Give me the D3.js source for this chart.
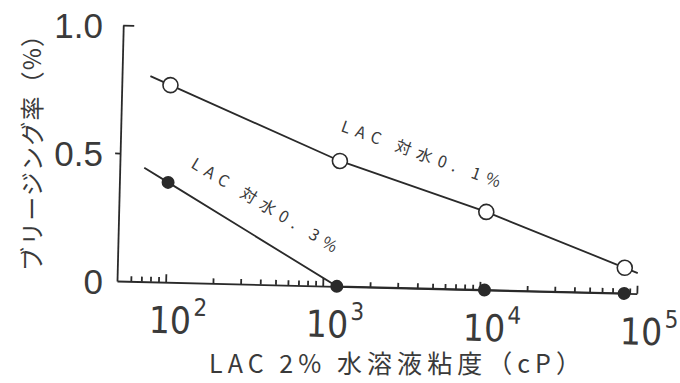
<!DOCTYPE html>
<html>
<head>
<meta charset="utf-8">
<script src="https://cdn.jsdelivr.net/npm/d3@7"></script>
<style>
  html, body { margin: 0; padding: 0; background: #fff; }
  svg { display: block; }
</style>
</head>
<body>
<svg id="chart" width="680" height="383"></svg>
<script>
// LAC 2% aqueous solution viscosity (cP) for each measured mix
const viscosity = [100, 1230, 10700, 83000];
// bleeding rate (%) — LAC dosed at 0.1% and 0.3% of mixing water
const bleedLac01 = [0.77, 0.49, 0.305, 0.10];
const bleedLac03 = [0.39, 0, 0, 0];

const xMajorTicks = [100, 1000, 10000, 100000];
const xTickExponents = ["2", "3", "4", "5"];
const yTickValues = [0, 0.5, 1.0];
const yTickLabels = ["0", "0.5", "1.0"];
const seriesLabels = ["LAC 対水0. 1%", "LAC 対水0. 3%"];
const xTitle = "LAC 2% 水溶液粘度（cP）";
const yTitle = "ブリージング率（%）";

const ink = "#2a2a2a";
const textInk = "#3a3a3a";
const svg = d3.select("#chart");

const x = d3.scaleLog().domain([49, 100000]).range([117, 637]);
const y = d3.scaleLinear().domain([0, 1]).range([281, 25]);

// the whole plot frame sits slightly tilted on the page
const plot = svg.append("g").attr("transform", "rotate(1.4, 117, 281)");

// x axis: baseline with inward minor ticks
const minorTicks = [];
for (let e = 1; e <= 4; e++) {
  for (let m = 2; m <= 9; m++) {
    const v = m * Math.pow(10, e);
    if (v > 55 && v < 100000) minorTicks.push(v);
  }
}
const xMinor = plot.append("g").attr("transform", `translate(0,${y(0)})`)
  .call(d3.axisBottom(x).tickValues(minorTicks).tickSizeInner(-5).tickSizeOuter(0).tickFormat(""));
const xMajor = plot.append("g").attr("transform", `translate(0,${y(0)})`)
  .call(d3.axisBottom(x).tickValues(xMajorTicks).tickSizeInner(-8).tickSizeOuter(0).tickFormat(""));
xMajor.select(".domain").remove();
[xMinor, xMajor].forEach(g => {
  g.selectAll("path, line").attr("stroke", ink).attr("stroke-width", 1.8);
});

// x tick labels as powers of ten
const xLab = plot.append("g")
  .attr("font-family", "'Liberation Sans Narrow', 'DejaVu Sans Condensed', 'Liberation Sans', sans-serif")
  .attr("fill", textInk);
xMajorTicks.forEach((v, i) => {
  const t = xLab.append("text")
    .attr("x", x(v) - 16).attr("y", y(0) + 51)
    .attr("font-size", 37);
  t.append("tspan").text("10");
  t.append("tspan").attr("dx", 2).attr("dy", -18).attr("font-size", 24).text(xTickExponents[i]);
});

// y axis: line, outward tick at 0.5, inward cap at 1.0
const yAxisL = plot.append("g").attr("transform", `translate(${x.range()[0]},0)`)
  .call(d3.axisLeft(y).tickValues([0.5]).tickSizeInner(5).tickSizeOuter(0).tickFormat(""));
const yAxisR = plot.append("g").attr("transform", `translate(${x.range()[0]},0)`)
  .call(d3.axisRight(y).tickValues([1.0]).tickSizeInner(11).tickSizeOuter(0).tickFormat(""));
yAxisR.select(".domain").remove();
[yAxisL, yAxisR].forEach(g => {
  g.selectAll("path, line").attr("stroke", ink).attr("stroke-width", 1.8);
});

// series lines with short lead-in / lead-out stubs
function withStubs(pts, lead, trail) {
  const out = pts.slice();
  if (lead > 0) {
    const [a, b] = [pts[0], pts[1]];
    const d = Math.hypot(b[0] - a[0], b[1] - a[1]);
    out.unshift([a[0] - (b[0] - a[0]) / d * lead, a[1] - (b[1] - a[1]) / d * lead]);
  }
  if (trail > 0) {
    const n = pts.length;
    const [a, b] = [pts[n - 2], pts[n - 1]];
    const d = Math.hypot(b[0] - a[0], b[1] - a[1]);
    out.push([b[0] + (b[0] - a[0]) / d * trail, b[1] + (b[1] - a[1]) / d * trail]);
  }
  return out;
}
const line = d3.line();

const pts01 = viscosity.map((v, i) => [x(v), y(bleedLac01[i])]);
const pts03 = viscosity.map((v, i) => [x(v), y(bleedLac03[i])]);

plot.append("path").attr("d", line(withStubs(pts01, 22, 14)))
  .attr("fill", "none").attr("stroke", ink).attr("stroke-width", 1.8);
plot.append("path").attr("d", line(withStubs(pts03, 28, 0)))
  .attr("fill", "none").attr("stroke", ink).attr("stroke-width", 1.8);

plot.append("g").selectAll("circle").data(pts03).join("circle")
  .attr("cx", d => d[0]).attr("cy", d => d[1]).attr("r", 6.5)
  .attr("fill", ink);
plot.append("g").selectAll("circle").data(pts01).join("circle")
  .attr("cx", d => d[0]).attr("cy", d => d[1]).attr("r", 7.5)
  .attr("fill", "#fff").attr("stroke", ink).attr("stroke-width", 1.6);

// y tick labels
svg.append("g")
  .attr("font-family", "'Liberation Sans', Arial, sans-serif")
  .attr("fill", textInk).attr("font-size", 35).attr("text-anchor", "end")
  .selectAll("text").data(yTickValues).join("text")
  .attr("x", 103).attr("y", d => y(d) + 13)
  .text((d, i) => yTickLabels[i]);

// in-plot series annotations, set along each line
const cjk = "'Noto Sans CJK JP', 'Noto Sans', sans-serif";
svg.append("text")
  .attr("transform", "translate(340,131) rotate(19.7)")
  .attr("font-family", cjk).attr("font-size", 16).attr("fill", textInk)
  .attr("textLength", 168).attr("lengthAdjust", "spacing")
  .text(seriesLabels[0]);
svg.append("text")
  .attr("transform", "translate(190,167) rotate(31)")
  .attr("font-family", cjk).attr("font-size", 16).attr("fill", textInk)
  .attr("textLength", 167).attr("lengthAdjust", "spacing")
  .text(seriesLabels[1]);

// axis titles
svg.append("text")
  .attr("x", 209).attr("y", 373)
  .attr("font-family", cjk).attr("font-size", 25).attr("fill", textInk)
  .attr("textLength", 372).attr("lengthAdjust", "spacing")
  .text(xTitle);
svg.append("text")
  .attr("transform", "translate(41,271) rotate(-90)")
  .attr("font-family", cjk).attr("font-size", 24).attr("fill", textInk)
  .attr("textLength", 248).attr("lengthAdjust", "spacing")
  .text(yTitle);
</script>
</body>
</html>
